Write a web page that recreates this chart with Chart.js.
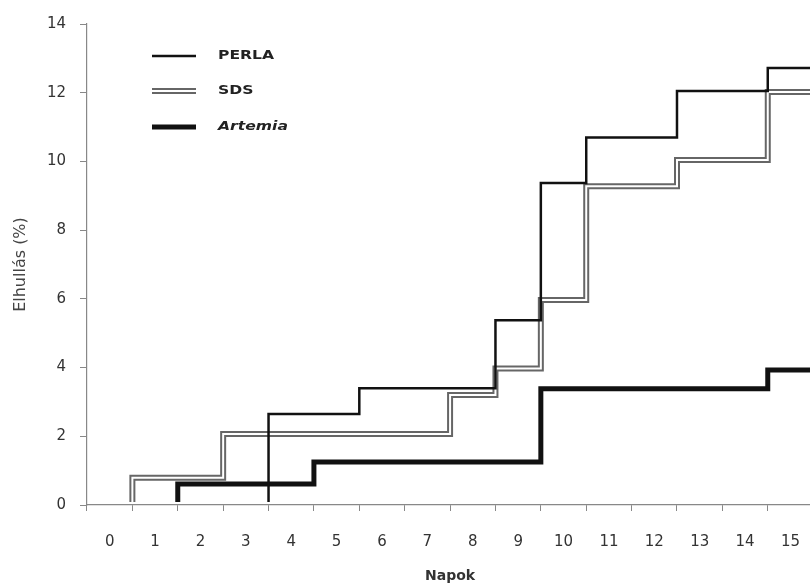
<!DOCTYPE html>
<html>
<head>
<meta charset="utf-8">
<script src="https://cdn.jsdelivr.net/npm/chart.js@4.4.0/dist/chart.umd.min.js"></script>
<style>
html,body{margin:0;padding:0;background:#fff;overflow:hidden;}
#wrap{width:822px;height:585px;position:relative;}
</style>
</head>
<body>
<div id="wrap"><canvas id="c"></canvas></div>
<script>
// Day categories (x axis labels)
const days = ['0','1','2','3','4','5','6','7','8','9','10','11','12','13','14','15'];
// Cumulative mortality (%) per day
const perla   = [0, 0, 0, 0, 2.65, 2.65, 3.4, 3.4, 3.4, 5.38, 9.37, 10.7, 10.7, 12.05, 12.05, 12.72];
const sds     = [0, 0.79, 0.79, 2.07, 2.07, 2.07, 2.07, 2.07, 3.2, 3.97, 5.97, 9.28, 9.28, 10.04, 10.04, 12.02];
const artemia = [0, 0, 0.61, 0.61, 0.61, 1.25, 1.25, 1.25, 1.25, 1.25, 3.38, 3.38, 3.38, 3.38, 3.38, 3.93];
const seriesNames = ['PERLA', 'SDS', 'Artemia'];
const yTicks = [0, 2, 4, 6, 8, 10, 12, 14];

// Each day occupies one category slot; steps at slot boundaries
function stepPoints(vals) {
  const pts = vals.map((v, i) => ({x: i - 0.5, y: v}));
  pts.push({x: vals.length - 0.5, y: vals[vals.length - 1]});
  return pts;
}

const legendPlugin = {
  id: 'customLegend',
  afterDraw(chart) {
    const ctx = chart.ctx;
    ctx.save();
    const x0 = 152, x1 = 196, tx = 218;
    const rows = [56, 91, 127];
    function seg(y, color, w) {
      ctx.beginPath(); ctx.moveTo(x0, y); ctx.lineTo(x1, y);
      ctx.strokeStyle = color; ctx.lineWidth = w; ctx.lineCap = 'butt'; ctx.stroke();
    }
    seg(rows[0], '#111', 2.5);
    seg(rows[1], '#666', 6); seg(rows[1], '#fff', 2);
    seg(rows[2], '#111', 5);
    const fonts = ['bold 12px "DejaVu Sans"', 'bold 12px "DejaVu Sans"', 'italic bold 12px "DejaVu Sans"'];
    ctx.fillStyle = '#222';
    ctx.textBaseline = 'middle';
    ctx.textAlign = 'left';
    seriesNames.forEach((n, i) => {
      ctx.save();
      ctx.translate(tx, rows[i]);
      ctx.scale(1.3, 1);
      ctx.font = fonts[i];
      ctx.fillText(n, 0, 0);
      ctx.restore();
    });
    ctx.restore();
  }
};

const clipOpt = {left: 5, top: 5, right: 5, bottom: -3};

new Chart(document.getElementById('c'), {
  type: 'line',
  data: {
    labels: days,
    datasets: [
      {label: 'PERLA', data: stepPoints(perla), xAxisID: 'xl', stepped: 'before', clip: clipOpt,
       borderColor: '#111', borderWidth: 2.5, pointRadius: 0, fill: false, order: 1},
      {label: 'SDS inner', data: stepPoints(sds), xAxisID: 'xl', stepped: 'before', clip: clipOpt,
       borderColor: '#fff', borderWidth: 2, pointRadius: 0, fill: false, order: 2},
      {label: 'SDS', data: stepPoints(sds), xAxisID: 'xl', stepped: 'before', clip: clipOpt,
       borderColor: '#666', borderWidth: 6, pointRadius: 0, fill: false, order: 3},
      {label: 'Artemia', data: stepPoints(artemia), xAxisID: 'xl', stepped: 'before', clip: clipOpt,
       borderColor: '#111', borderWidth: 5, pointRadius: 0, fill: false, order: 4}
    ]
  },
  options: {
    responsive: true,
    maintainAspectRatio: false,
    animation: false,
    events: [],
    layout: {padding: {left: 0, top: 24, right: 0, bottom: 0}},
    plugins: {legend: {display: false}, tooltip: {enabled: false}},
    scales: {
      x: {
        type: 'category',
        position: 'bottom',
        offset: true,
        grid: {offset: true, drawOnChartArea: false, drawTicks: true, tickLength: 6, color: '#888', lineWidth: 1},
        border: {display: true, color: '#888', width: 1.2},
        ticks: {color: '#333', padding: 22, font: {family: 'DejaVu Sans', size: 15}, maxRotation: 0, autoSkip: false},
        title: {display: true, text: 'Napok', color: '#333', font: {family: 'DejaVu Sans', size: 14, weight: 'bold'}, padding: {top: 0, bottom: 0}},
        afterFit(s) { s.height = 80; }
      },
      xl: {
        type: 'linear',
        display: false,
        min: -0.5,
        max: 15.5
      },
      y: {
        type: 'linear',
        min: 0,
        max: 14,
        afterBuildTicks(s) { s.ticks = yTicks.map(v => ({value: v})); },
        grid: {drawOnChartArea: false, drawTicks: true, tickLength: 7, color: '#888', lineWidth: 1},
        border: {display: true, color: '#888', width: 1.2},
        ticks: {color: '#333', padding: 14, font: {family: 'DejaVu Sans', size: 15}},
        title: {display: true, text: 'Elhullás (%)', color: '#444', font: {family: 'DejaVu Sans', size: 16}, padding: {top: 11, bottom: 0}},
        afterFit(s) { s.width = 87; }
      }
    }
  },
  plugins: [legendPlugin]
});
</script>
</body>
</html>
